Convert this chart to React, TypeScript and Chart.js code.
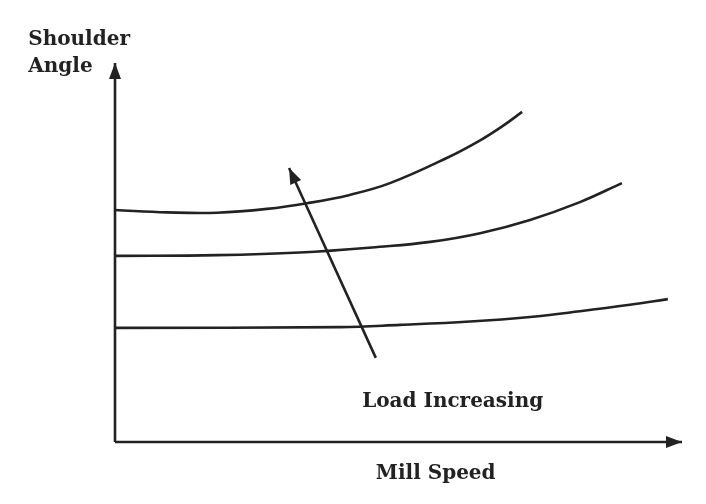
import { useEffect, useRef } from "react";
import { Chart, registerables } from "chart.js";

Chart.register(...registerables);

// Shoulder angle against mill speed, one curve per load level (0–100 schematic units)
const lowLoadSpeed = [0, 39.7, 50.3, 62.6, 73.2, 82.0, 90.8, 97.5];
const lowLoadAngle = [30.1, 30.3, 30.9, 31.8, 33.0, 34.5, 36.2, 37.7];

const midLoadSpeed = [0, 18.0, 32.6, 46.7, 55.6, 64.4, 73.2, 82.0, 89.4];
const midLoadAngle = [49.1, 49.3, 50.0, 51.5, 52.8, 55.1, 58.6, 63.3, 68.3];

const highLoadSpeed = [0, 9.2, 18.0, 26.8, 33.9, 41.4, 48.5, 58.6, 64.4, 68.4, 71.8];
const highLoadAngle = [61.2, 60.6, 60.5, 61.5, 63.0, 65.2, 68.3, 75.0, 79.6, 83.4, 87.1];

// Direction of increasing load: tail -> head
const loadArrowSpeed = [46.0, 30.7];
const loadArrowAngle = [22.2, 72.3];

// Axis extents
const speedMax = 100;
const angleMax = 100;

const yTitleLines = ["Shoulder", "Angle"];
const xTitle = "Mill Speed";
const loadLabel = "Load Increasing";

const INK = "#222222";
const FONT = 'bold 20px "DejaVu Serif"';

const toPoints = (xs: number[], ys: number[]) => xs.map((x, i) => ({ x, y: ys[i] }));

// Filled arrowheads at the last point of datasets flagged with `arrowHead`
const arrowHeadPlugin = {
  id: "arrowHeads",
  afterDatasetsDraw(chart: any) {
    const ctx = chart.ctx;
    chart.data.datasets.forEach((ds: any, i: number) => {
      if (!ds.arrowHead) return;
      const pts = chart.getDatasetMeta(i).data;
      const p1 = pts[pts.length - 1];
      const p0 = pts[pts.length - 2];
      const a = Math.atan2(p1.y - p0.y, p1.x - p0.x);
      const len = 16;
      const half = 6;
      ctx.save();
      ctx.fillStyle = INK;
      ctx.beginPath();
      ctx.moveTo(p1.x, p1.y);
      ctx.lineTo(
        p1.x - len * Math.cos(a) - half * Math.sin(a),
        p1.y - len * Math.sin(a) + half * Math.cos(a)
      );
      ctx.lineTo(
        p1.x - len * Math.cos(a) + half * Math.sin(a),
        p1.y - len * Math.sin(a) - half * Math.cos(a)
      );
      ctx.closePath();
      ctx.fill();
      ctx.restore();
    });
  },
};

// Text labels anchored in data coordinates
const labelPlacements = [
  { text: yTitleLines[0], x: -15.3, y: 104.7 },
  { text: yTitleLines[1], x: -15.3, y: 97.6 },
  { text: loadLabel, x: 43.6, y: 9.2 },
  { text: xTitle, x: 46.0, y: -9.8 },
];

const textPlugin = {
  id: "schematicText",
  afterDraw(chart: any) {
    const ctx = chart.ctx;
    const { x: xs, y: ys } = chart.scales;
    ctx.save();
    ctx.font = FONT;
    ctx.fillStyle = INK;
    ctx.textAlign = "left";
    ctx.textBaseline = "alphabetic";
    labelPlacements.forEach((l) => {
      ctx.fillText(l.text, xs.getPixelForValue(l.x), ys.getPixelForValue(l.y));
    });
    ctx.restore();
  },
};

export default function App() {
  const canvasRef = useRef<HTMLCanvasElement | null>(null);

  useEffect(() => {
    if (!canvasRef.current) return;
    const line = (data: { x: number; y: number }[], extra: any = {}) => ({
      data,
      borderColor: INK,
      backgroundColor: INK,
      borderWidth: 2.6,
      pointRadius: 0,
      fill: false,
      clip: false,
      ...extra,
    });

    const chart = new Chart(canvasRef.current, {
      type: "line",
      data: {
        datasets: [
          line(toPoints([0, 0], [0, angleMax]), { arrowHead: true, tension: 0 }),
          line(toPoints([0, speedMax], [0, 0]), { arrowHead: true, tension: 0 }),
          line(toPoints(lowLoadSpeed, lowLoadAngle), { tension: 0.4 }),
          line(toPoints(midLoadSpeed, midLoadAngle), { tension: 0.4 }),
          line(toPoints(highLoadSpeed, highLoadAngle), { tension: 0.4 }),
          line(toPoints(loadArrowSpeed, loadArrowAngle), { arrowHead: true, tension: 0 }),
        ] as any,
      },
      options: {
        responsive: false,
        maintainAspectRatio: false,
        animation: false,
        layout: { padding: { left: 115, right: 24, top: 63, bottom: 62 } },
        scales: {
          x: { type: "linear", min: 0, max: speedMax, display: false },
          y: { type: "linear", min: 0, max: angleMax, display: false },
        },
        plugins: {
          legend: { display: false },
          tooltip: { enabled: false },
        },
      },
      plugins: [arrowHeadPlugin, textPlugin],
    });
    return () => chart.destroy();
  }, []);

  return (
    <div style={{ position: "fixed", left: 0, top: 0, width: 706, height: 504, background: "#fff" }}>
      <canvas ref={canvasRef} width={706} height={504} style={{ display: "block" }} />
    </div>
  );
}
